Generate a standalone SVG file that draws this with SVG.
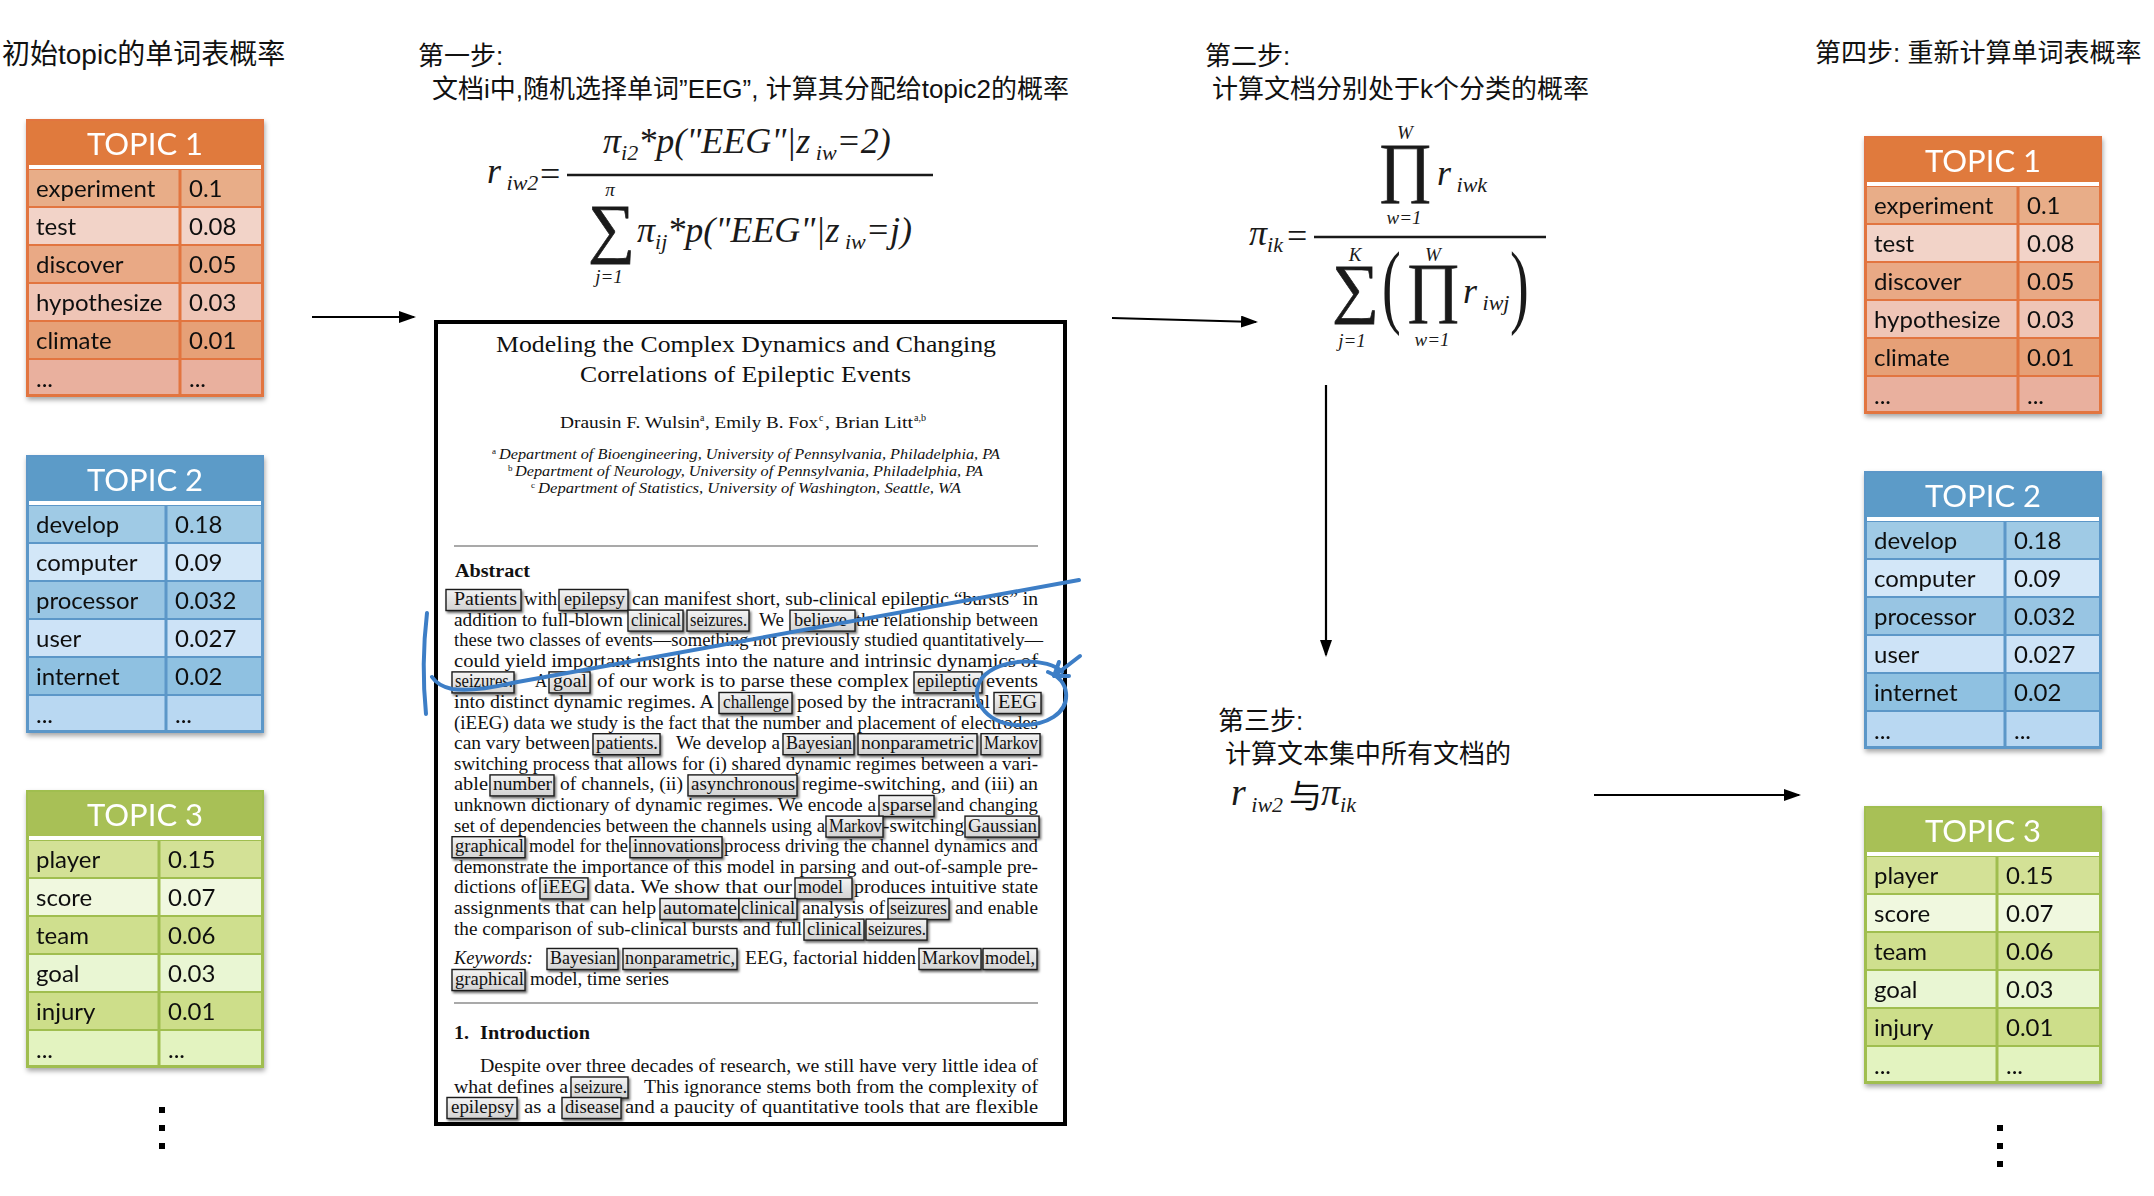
<svg xmlns="http://www.w3.org/2000/svg" width="2154" height="1196" viewBox="0 0 2154 1196">
<style>
.ob{fill:#E2743F}.oh{fill:#E07A3E}.o1{fill:#E8AD88}.o2{fill:#F2D3C8}.o3{fill:#E9A985}.o4{fill:#EFC5B6}.o5{fill:#E6A077}.o6{fill:#E9B09E}.ol{stroke:#E2743F}
.bb{fill:#5B97C8}.bh{fill:#5B9BC8}.b1{fill:#9FCAE5}.b2{fill:#D3E7F8}.b3{fill:#98C5E3}.b4{fill:#CDE3F7}.b5{fill:#8FC1E1}.b6{fill:#B9D8F2}.bl{stroke:#5B97C8}
.gb{fill:#A0BE50}.gh{fill:#A8C056}.g1{fill:#D3E196}.g2{fill:#F0F8DF}.g3{fill:#CFDF8E}.g4{fill:#E9F6D3}.g5{fill:#CDDE8A}.g6{fill:#E3F3C0}.gl{stroke:#A0BE50}
.wb{fill:#fff}
.dv{stroke-width:3}
.th{font-family:Lato,"Open Sans",sans-serif;font-size:31px;fill:#fff;text-anchor:middle}
.tl{font-family:Lato,"Open Sans",sans-serif;font-size:24px;fill:#111}
.cn{font-family:"Liberation Sans","Noto Sans CJK SC",sans-serif;font-size:26px;fill:#111}
.m{font-family:"Liberation Serif",serif;font-style:italic;font-size:36px;fill:#1a1a1a}
.s{font-size:22px}
.lim{font-family:"Liberation Serif",serif;font-style:italic;font-size:19px;fill:#1a1a1a;text-anchor:middle}
.op{font-family:"Liberation Serif",serif;font-size:66px;fill:#1a1a1a;stroke:#1a1a1a;stroke-width:0.7}
.eq{font-family:"Liberation Serif",serif;font-size:36px;fill:#1a1a1a}
.pt{font-family:"Liberation Serif",serif;font-size:18px;fill:#111}
.it{font-style:italic}
.bd{font-weight:bold}
.hl{fill:url(#bgr);stroke:#1c1c1c;stroke-width:1.4;filter:url(#bs)}
.rule{stroke:#555;stroke-width:1.2}
.arr{stroke:#000;stroke-width:2.2;fill:none;marker-end:url(#ah)}
.pen{stroke:#3D7EC6;stroke-width:4;fill:none;stroke-linecap:round;stroke-linejoin:round}
.dot{fill:#000}
</style>
<defs>
<filter id="tsh" x="-10%" y="-10%" width="125%" height="125%"><feDropShadow dx="1" dy="3" stdDeviation="2.5" flood-color="#000" flood-opacity="0.35"/></filter>
<filter id="bs" x="-20%" y="-30%" width="150%" height="180%"><feDropShadow dx="1.5" dy="2" stdDeviation="1" flood-color="#000" flood-opacity="0.55"/></filter>
<linearGradient id="bgr" x1="0" y1="0" x2="0" y2="1"><stop offset="0" stop-color="#f4f4f4"/><stop offset="1" stop-color="#d2d2d2"/></linearGradient>
<marker id="ah" markerWidth="17" markerHeight="12" refX="15" refY="6" orient="auto" markerUnits="userSpaceOnUse"><path d="M0,0 L17,6 L0,12 z" fill="#000"/></marker>
</defs>
<rect width="2154" height="1196" fill="#fff"/>

<!-- titles -->
<g id="title-left"><text class="cn" style="font-size:28px" x="2" y="64">初始topic的单词表概率</text></g>
<g id="title-right"><text class="cn" x="1815" y="62">第四步: 重新计算单词表概率</text></g>

<!-- LEFT TOPIC 1 -->
<g id="topic1-left" transform="translate(26,119)" filter="url(#tsh)">
<rect class="ob" width="238" height="278"/><rect class="oh" x="2" y="2" width="234" height="44"/><rect class="wb" x="3" y="46" width="232" height="4"/>
<rect class="o1" x="3" y="51" width="232" height="36"/><rect class="o2" x="3" y="89" width="232" height="36"/><rect class="o3" x="3" y="127" width="232" height="36"/><rect class="o4" x="3" y="165" width="232" height="36"/><rect class="o5" x="3" y="203" width="232" height="36"/><rect class="o6" x="3" y="241" width="232" height="34"/>
<line class="ol dv" x1="154" y1="50" x2="154" y2="276"/>
<text class="th" x="119" y="36">TOPIC 1</text>
<text class="tl" x="10" y="78">experiment</text><text class="tl" x="163" y="78">0.1</text>
<text class="tl" x="10" y="116">test</text><text class="tl" x="163" y="116">0.08</text>
<text class="tl" x="10" y="154">discover</text><text class="tl" x="163" y="154">0.05</text>
<text class="tl" x="10" y="192">hypothesize</text><text class="tl" x="163" y="192">0.03</text>
<text class="tl" x="10" y="230">climate</text><text class="tl" x="163" y="230">0.01</text>
<text class="tl" x="10" y="268">...</text><text class="tl" x="163" y="268">...</text>
</g>
<!-- LEFT TOPIC 2 -->
<g id="topic2-left" transform="translate(26,455)" filter="url(#tsh)">
<rect class="bb" width="238" height="278"/><rect class="bh" x="2" y="2" width="234" height="44"/><rect class="wb" x="3" y="46" width="232" height="4"/>
<rect class="b1" x="3" y="51" width="232" height="36"/><rect class="b2" x="3" y="89" width="232" height="36"/><rect class="b3" x="3" y="127" width="232" height="36"/><rect class="b4" x="3" y="165" width="232" height="36"/><rect class="b5" x="3" y="203" width="232" height="36"/><rect class="b6" x="3" y="241" width="232" height="34"/>
<line class="bl dv" x1="140" y1="50" x2="140" y2="276"/>
<text class="th" x="119" y="36">TOPIC 2</text>
<text class="tl" x="10" y="78">develop</text><text class="tl" x="149" y="78">0.18</text>
<text class="tl" x="10" y="116">computer</text><text class="tl" x="149" y="116">0.09</text>
<text class="tl" x="10" y="154">processor</text><text class="tl" x="149" y="154">0.032</text>
<text class="tl" x="10" y="192">user</text><text class="tl" x="149" y="192">0.027</text>
<text class="tl" x="10" y="230">internet</text><text class="tl" x="149" y="230">0.02</text>
<text class="tl" x="10" y="268">...</text><text class="tl" x="149" y="268">...</text>
</g>
<!-- LEFT TOPIC 3 -->
<g id="topic3-left" transform="translate(26,790)" filter="url(#tsh)">
<rect class="gb" width="238" height="278"/><rect class="gh" x="2" y="2" width="234" height="44"/><rect class="wb" x="3" y="46" width="232" height="4"/>
<rect class="g1" x="3" y="51" width="232" height="36"/><rect class="g2" x="3" y="89" width="232" height="36"/><rect class="g3" x="3" y="127" width="232" height="36"/><rect class="g4" x="3" y="165" width="232" height="36"/><rect class="g5" x="3" y="203" width="232" height="36"/><rect class="g6" x="3" y="241" width="232" height="34"/>
<line class="gl dv" x1="133" y1="50" x2="133" y2="276"/>
<text class="th" x="119" y="36">TOPIC 3</text>
<text class="tl" x="10" y="78">player</text><text class="tl" x="142" y="78">0.15</text>
<text class="tl" x="10" y="116">score</text><text class="tl" x="142" y="116">0.07</text>
<text class="tl" x="10" y="154">team</text><text class="tl" x="142" y="154">0.06</text>
<text class="tl" x="10" y="192">goal</text><text class="tl" x="142" y="192">0.03</text>
<text class="tl" x="10" y="230">injury</text><text class="tl" x="142" y="230">0.01</text>
<text class="tl" x="10" y="268">...</text><text class="tl" x="142" y="268">...</text>
</g>
<g id="more-left"><rect class="dot" x="159" y="1107" width="6" height="6"/><rect class="dot" x="159" y="1125" width="6" height="6"/><rect class="dot" x="159" y="1143" width="6" height="6"/></g>

<!-- RIGHT TOPIC 1 -->
<g id="topic1-right" transform="translate(1864,136)" filter="url(#tsh)">
<rect class="ob" width="238" height="278"/><rect class="oh" x="2" y="2" width="234" height="44"/><rect class="wb" x="3" y="46" width="232" height="4"/>
<rect class="o1" x="3" y="51" width="232" height="36"/><rect class="o2" x="3" y="89" width="232" height="36"/><rect class="o3" x="3" y="127" width="232" height="36"/><rect class="o4" x="3" y="165" width="232" height="36"/><rect class="o5" x="3" y="203" width="232" height="36"/><rect class="o6" x="3" y="241" width="232" height="34"/>
<line class="ol dv" x1="154" y1="50" x2="154" y2="276"/>
<text class="th" x="119" y="36">TOPIC 1</text>
<text class="tl" x="10" y="78">experiment</text><text class="tl" x="163" y="78">0.1</text>
<text class="tl" x="10" y="116">test</text><text class="tl" x="163" y="116">0.08</text>
<text class="tl" x="10" y="154">discover</text><text class="tl" x="163" y="154">0.05</text>
<text class="tl" x="10" y="192">hypothesize</text><text class="tl" x="163" y="192">0.03</text>
<text class="tl" x="10" y="230">climate</text><text class="tl" x="163" y="230">0.01</text>
<text class="tl" x="10" y="268">...</text><text class="tl" x="163" y="268">...</text>
</g>
<!-- RIGHT TOPIC 2 -->
<g id="topic2-right" transform="translate(1864,471)" filter="url(#tsh)">
<rect class="bb" width="238" height="278"/><rect class="bh" x="2" y="2" width="234" height="44"/><rect class="wb" x="3" y="46" width="232" height="4"/>
<rect class="b1" x="3" y="51" width="232" height="36"/><rect class="b2" x="3" y="89" width="232" height="36"/><rect class="b3" x="3" y="127" width="232" height="36"/><rect class="b4" x="3" y="165" width="232" height="36"/><rect class="b5" x="3" y="203" width="232" height="36"/><rect class="b6" x="3" y="241" width="232" height="34"/>
<line class="bl dv" x1="141" y1="50" x2="141" y2="276"/>
<text class="th" x="119" y="36">TOPIC 2</text>
<text class="tl" x="10" y="78">develop</text><text class="tl" x="150" y="78">0.18</text>
<text class="tl" x="10" y="116">computer</text><text class="tl" x="150" y="116">0.09</text>
<text class="tl" x="10" y="154">processor</text><text class="tl" x="150" y="154">0.032</text>
<text class="tl" x="10" y="192">user</text><text class="tl" x="150" y="192">0.027</text>
<text class="tl" x="10" y="230">internet</text><text class="tl" x="150" y="230">0.02</text>
<text class="tl" x="10" y="268">...</text><text class="tl" x="150" y="268">...</text>
</g>
<!-- RIGHT TOPIC 3 -->
<g id="topic3-right" transform="translate(1864,806)" filter="url(#tsh)">
<rect class="gb" width="238" height="278"/><rect class="gh" x="2" y="2" width="234" height="44"/><rect class="wb" x="3" y="46" width="232" height="4"/>
<rect class="g1" x="3" y="51" width="232" height="36"/><rect class="g2" x="3" y="89" width="232" height="36"/><rect class="g3" x="3" y="127" width="232" height="36"/><rect class="g4" x="3" y="165" width="232" height="36"/><rect class="g5" x="3" y="203" width="232" height="36"/><rect class="g6" x="3" y="241" width="232" height="34"/>
<line class="gl dv" x1="133" y1="50" x2="133" y2="276"/>
<text class="th" x="119" y="36">TOPIC 3</text>
<text class="tl" x="10" y="78">player</text><text class="tl" x="142" y="78">0.15</text>
<text class="tl" x="10" y="116">score</text><text class="tl" x="142" y="116">0.07</text>
<text class="tl" x="10" y="154">team</text><text class="tl" x="142" y="154">0.06</text>
<text class="tl" x="10" y="192">goal</text><text class="tl" x="142" y="192">0.03</text>
<text class="tl" x="10" y="230">injury</text><text class="tl" x="142" y="230">0.01</text>
<text class="tl" x="10" y="268">...</text><text class="tl" x="142" y="268">...</text>
</g>
<g id="more-right"><rect class="dot" x="1997" y="1125" width="6" height="6"/><rect class="dot" x="1997" y="1143" width="6" height="6"/><rect class="dot" x="1997" y="1161" width="6" height="6"/></g>

<!-- STEP 1 -->
<g id="step1">
<text class="cn" x="418" y="65">第一步:</text>
<text class="cn" x="432" y="98">文档i中,随机选择单词”EEG”, 计算其分配给topic2的概率</text>
<text class="m" x="487" y="183">r<tspan class="s" dy="7"> iw2</tspan></text>
<text class="eq" x="540" y="186">=</text>
<line x1="567" y1="175" x2="933" y2="175" stroke="#1a1a1a" stroke-width="2.5"/>
<text class="m" x="603" y="153">π<tspan class="s" dy="7">i2</tspan><tspan dy="-7">*p("EEG"|z</tspan><tspan class="s" dy="7"> iw</tspan><tspan dy="-7">=2)</tspan></text>
<text class="lim" x="610" y="196">π</text>
<text class="op" x="588" y="250">∑</text>
<text class="lim" x="609" y="283">j=1</text>
<text class="m" x="637" y="242">π<tspan class="s" dy="7">ij</tspan><tspan dy="-7">*p("EEG"|z</tspan><tspan class="s" dy="7"> iw</tspan><tspan dy="-7">=j)</tspan></text>
</g>

<!-- STEP 2 -->
<g id="step2">
<text class="cn" x="1205" y="65">第二步:</text>
<text class="cn" x="1212" y="98">计算文档分别处于k个分类的概率</text>
<text class="m" x="1249" y="245">π<tspan class="s" dy="7">ik</tspan></text>
<text class="eq" x="1287" y="248">=</text>
<line x1="1314" y1="237" x2="1546" y2="237" stroke="#1a1a1a" stroke-width="2.5"/>
<text class="lim" x="1405" y="139">W</text>
<text class="op" x="1378" y="189">∏</text>
<text class="lim" x="1404" y="224">w=1</text>
<text class="m" x="1437" y="185">r<tspan class="s" dy="7"> iwk</tspan></text>
<text class="lim" x="1355" y="261">K</text>
<text class="op" x="1332" y="310">∑</text>
<text class="lim" x="1352" y="347">j=1</text>
<text class="eq" transform="translate(1382,316) scale(0.6,1)" style="font-size:94px">(</text>
<text class="lim" x="1433" y="261">W</text>
<text class="op" x="1406" y="309">∏</text>
<text class="lim" x="1432" y="346">w=1</text>
<text class="m" x="1463" y="303">r<tspan class="s" dy="7"> iwj</tspan></text>
<text class="eq" transform="translate(1510,316) scale(0.6,1)" style="font-size:94px">)</text>
</g>

<!-- STEP 3 -->
<g id="step3">
<text class="cn" x="1218" y="730">第三步:</text>
<text class="cn" x="1225" y="763">计算文本集中所有文档的</text>
<text class="m" x="1231" y="805" style="font-size:38px">r<tspan class="s" dy="7"> iw2</tspan></text>
<text class="cn" x="1289" y="808" style="font-size:33px">与</text>
<text class="m" x="1321" y="805" style="font-size:38px">π<tspan class="s" dy="7">ik</tspan></text>
</g>

<!-- connectors -->
<g id="connectors">
<line class="arr" x1="312" y1="317" x2="414" y2="317"/>
<line class="arr" x1="1112" y1="318" x2="1256" y2="322"/>
<line class="arr" x1="1326" y1="385" x2="1326" y2="655"/>
<line class="arr" x1="1594" y1="795" x2="1799" y2="795"/>
</g>

<!-- PAPER -->
<g id="paper">
<rect x="436" y="322" width="629" height="802" fill="#fff" stroke="#000" stroke-width="4"/>
<text class="pt" style="font-size:23px" x="496" y="352" textLength="500" lengthAdjust="spacingAndGlyphs">Modeling the Complex Dynamics and Changing</text>
<text class="pt" style="font-size:23px" x="580" y="382" textLength="331" lengthAdjust="spacingAndGlyphs">Correlations of Epileptic Events</text>
<g>
<text class="pt" style="font-size:16px" x="560" y="428" textLength="140" lengthAdjust="spacingAndGlyphs">Drausin F. Wulsin</text>
<text class="pt" style="font-size:10px" x="700" y="421">a</text>
<text class="pt" style="font-size:16px" x="705" y="428" textLength="113" lengthAdjust="spacingAndGlyphs">, Emily B. Fox</text>
<text class="pt" style="font-size:10px" x="819" y="421">c</text>
<text class="pt" style="font-size:16px" x="825" y="428" textLength="88" lengthAdjust="spacingAndGlyphs">, Brian Litt</text>
<text class="pt" style="font-size:10px" x="914" y="421">a,b</text>
</g>
<text class="pt" style="font-size:9px" x="492" y="454">a</text>
<text class="pt it" style="font-size:14px" x="499" y="459" textLength="501" lengthAdjust="spacingAndGlyphs">Department of Bioengineering, University of Pennsylvania, Philadelphia, PA</text>
<text class="pt" style="font-size:9px" x="508" y="471">b</text>
<text class="pt it" style="font-size:14px" x="515" y="476" textLength="468" lengthAdjust="spacingAndGlyphs">Department of Neurology, University of Pennsylvania, Philadelphia, PA</text>
<text class="pt" style="font-size:9px" x="531" y="488">c</text>
<text class="pt it" style="font-size:14px" x="538" y="493" textLength="423" lengthAdjust="spacingAndGlyphs">Department of Statistics, University of Washington, Seattle, WA</text>
<line class="rule" x1="454" y1="546" x2="1038" y2="546"/>
<text class="pt bd" x="455" y="577" textLength="75" lengthAdjust="spacingAndGlyphs">Abstract</text>

<!-- highlight boxes -->
<rect class="hl" x="446" y="589.5" width="75" height="21"/>
<rect class="hl" x="559" y="589.5" width="69" height="21"/>
<rect class="hl" x="628" y="610.1" width="55" height="21"/>
<rect class="hl" x="687" y="610.1" width="62" height="21"/>
<rect class="hl" x="790" y="610.1" width="65" height="21"/>
<rect class="hl" x="452" y="671.9" width="62" height="21"/>
<rect class="hl" x="549" y="671.9" width="41" height="21"/>
<rect class="hl" x="914" y="671.9" width="68" height="21"/>
<rect class="hl" x="719" y="692.5" width="73" height="21"/>
<rect class="hl" x="994" y="692.5" width="47" height="21"/>
<rect class="hl" x="593" y="733.7" width="67" height="21"/>
<rect class="hl" x="783" y="733.7" width="71" height="21"/>
<rect class="hl" x="858" y="733.7" width="119" height="21"/>
<rect class="hl" x="981" y="733.7" width="59" height="21"/>
<rect class="hl" x="490" y="774.9" width="64" height="21"/>
<rect class="hl" x="688" y="774.9" width="109" height="21"/>
<rect class="hl" x="879" y="795.5" width="55" height="21"/>
<rect class="hl" x="826" y="816.1" width="57" height="21"/>
<rect class="hl" x="965" y="816.1" width="74" height="21"/>
<rect class="hl" x="452" y="836.7" width="73" height="21"/>
<rect class="hl" x="630" y="836.7" width="92" height="21"/>
<rect class="hl" x="540" y="877.9" width="48" height="21"/>
<rect class="hl" x="795" y="877.9" width="57" height="21"/>
<rect class="hl" x="660" y="898.5" width="79" height="21"/>
<rect class="hl" x="739" y="898.5" width="58" height="21"/>
<rect class="hl" x="888" y="898.5" width="61" height="21"/>
<rect class="hl" x="804" y="919.1" width="60" height="21"/>
<rect class="hl" x="866" y="919.1" width="61" height="21"/>
<rect class="hl" x="547" y="948.5" width="71" height="21"/>
<rect class="hl" x="623" y="948.5" width="114" height="21"/>
<rect class="hl" x="919" y="948.5" width="62" height="21"/>
<rect class="hl" x="983" y="948.5" width="54" height="21"/>
<rect class="hl" x="452" y="969.5" width="73" height="21"/>
<rect class="hl" x="571" y="1077" width="57" height="21"/>
<rect class="hl" x="447" y="1097.5" width="70" height="21"/>
<rect class="hl" x="562" y="1097.5" width="59" height="21"/>

<!-- body text -->
<g class="pt">
<text x="454" y="605" textLength="63" lengthAdjust="spacingAndGlyphs">Patients</text>
<text x="524" y="605" textLength="33" lengthAdjust="spacingAndGlyphs">with</text>
<text x="564" y="605" textLength="61" lengthAdjust="spacingAndGlyphs">epilepsy</text>
<text x="632" y="605" textLength="406" lengthAdjust="spacingAndGlyphs">can manifest short, sub-clinical epileptic “bursts” in</text>

<text x="454" y="625.6" textLength="169" lengthAdjust="spacingAndGlyphs">addition to full-blown</text>
<text x="631" y="625.6" textLength="50" lengthAdjust="spacingAndGlyphs">clinical</text>
<text x="690" y="625.6" textLength="57" lengthAdjust="spacingAndGlyphs">seizures.</text>
<text x="759" y="625.6" textLength="25" lengthAdjust="spacingAndGlyphs">We</text>
<text x="794" y="625.6" textLength="53" lengthAdjust="spacingAndGlyphs">believe</text>
<text x="856" y="625.6" textLength="182" lengthAdjust="spacingAndGlyphs">the relationship between</text>

<text x="454" y="646.2" textLength="589" lengthAdjust="spacingAndGlyphs">these two classes of events—something not previously studied quantitatively—</text>
<text x="454" y="666.8" textLength="584" lengthAdjust="spacingAndGlyphs">could yield important insights into the nature and intrinsic dynamics of</text>

<text x="455" y="687.4" textLength="58" lengthAdjust="spacingAndGlyphs">seizures.</text>
<text x="535" y="687.4" textLength="12" lengthAdjust="spacingAndGlyphs">A</text>
<text x="553" y="687.4" textLength="34" lengthAdjust="spacingAndGlyphs">goal</text>
<text x="597" y="687.4" textLength="312" lengthAdjust="spacingAndGlyphs">of our work is to parse these complex</text>
<text x="917" y="687.4" textLength="63" lengthAdjust="spacingAndGlyphs">epileptic</text>
<text x="986" y="687.4" textLength="52" lengthAdjust="spacingAndGlyphs">events</text>

<text x="454" y="708" textLength="260" lengthAdjust="spacingAndGlyphs">into distinct dynamic regimes.  A</text>
<text x="723" y="708" textLength="66" lengthAdjust="spacingAndGlyphs">challenge</text>
<text x="797" y="708" textLength="193" lengthAdjust="spacingAndGlyphs">posed by the intracranial</text>
<text x="998" y="708" textLength="39" lengthAdjust="spacingAndGlyphs">EEG</text>

<text x="454" y="728.6" textLength="584" lengthAdjust="spacingAndGlyphs">(iEEG) data we study is the fact that the number and placement of electrodes</text>

<text x="454" y="749.2" textLength="136" lengthAdjust="spacingAndGlyphs">can vary between</text>
<text x="596" y="749.2" textLength="62" lengthAdjust="spacingAndGlyphs">patients.</text>
<text x="676" y="749.2" textLength="104" lengthAdjust="spacingAndGlyphs">We develop a</text>
<text x="786" y="749.2" textLength="66" lengthAdjust="spacingAndGlyphs">Bayesian</text>
<text x="861" y="749.2" textLength="113" lengthAdjust="spacingAndGlyphs">nonparametric</text>
<text x="984" y="749.2" textLength="54" lengthAdjust="spacingAndGlyphs">Markov</text>

<text x="454" y="769.8" textLength="584" lengthAdjust="spacingAndGlyphs">switching process that allows for (i) shared dynamic regimes between a vari-</text>

<text x="454" y="790.4" textLength="34" lengthAdjust="spacingAndGlyphs">able</text>
<text x="493" y="790.4" textLength="59" lengthAdjust="spacingAndGlyphs">number</text>
<text x="560" y="790.4" textLength="123" lengthAdjust="spacingAndGlyphs">of channels, (ii)</text>
<text x="691" y="790.4" textLength="104" lengthAdjust="spacingAndGlyphs">asynchronous</text>
<text x="802" y="790.4" textLength="236" lengthAdjust="spacingAndGlyphs">regime-switching, and (iii) an</text>

<text x="454" y="811" textLength="422" lengthAdjust="spacingAndGlyphs">unknown dictionary of dynamic regimes. We encode a</text>
<text x="882" y="811" textLength="50" lengthAdjust="spacingAndGlyphs">sparse</text>
<text x="937" y="811" textLength="101" lengthAdjust="spacingAndGlyphs">and changing</text>

<text x="454" y="831.6" textLength="371" lengthAdjust="spacingAndGlyphs">set of dependencies between the channels using a</text>
<text x="829" y="831.6" textLength="53" lengthAdjust="spacingAndGlyphs">Markov</text>
<text x="883" y="831.6" textLength="81" lengthAdjust="spacingAndGlyphs">-switching</text>
<text x="968" y="831.6" textLength="69" lengthAdjust="spacingAndGlyphs">Gaussian</text>

<text x="455" y="852.2" textLength="69" lengthAdjust="spacingAndGlyphs">graphical</text>
<text x="529" y="852.2" textLength="99" lengthAdjust="spacingAndGlyphs">model for the</text>
<text x="633" y="852.2" textLength="87" lengthAdjust="spacingAndGlyphs">innovations</text>
<text x="724" y="852.2" textLength="314" lengthAdjust="spacingAndGlyphs">process driving the channel dynamics and</text>

<text x="454" y="872.8" textLength="584" lengthAdjust="spacingAndGlyphs">demonstrate the importance of this model in parsing and out-of-sample pre-</text>

<text x="454" y="893.4" textLength="83" lengthAdjust="spacingAndGlyphs">dictions of</text>
<text x="543" y="893.4" textLength="43" lengthAdjust="spacingAndGlyphs">iEEG</text>
<text x="594" y="893.4" textLength="198" lengthAdjust="spacingAndGlyphs">data.  We show that our</text>
<text x="798" y="893.4" textLength="45" lengthAdjust="spacingAndGlyphs">model</text>
<text x="854" y="893.4" textLength="184" lengthAdjust="spacingAndGlyphs">produces intuitive state</text>

<text x="454" y="914" textLength="202" lengthAdjust="spacingAndGlyphs">assignments that can help</text>
<text x="663" y="914" textLength="74" lengthAdjust="spacingAndGlyphs">automate</text>
<text x="741" y="914" textLength="54" lengthAdjust="spacingAndGlyphs">clinical</text>
<text x="802" y="914" textLength="83" lengthAdjust="spacingAndGlyphs">analysis of</text>
<text x="890" y="914" textLength="57" lengthAdjust="spacingAndGlyphs">seizures</text>
<text x="955" y="914" textLength="83" lengthAdjust="spacingAndGlyphs">and enable</text>

<text x="454" y="934.6" textLength="348" lengthAdjust="spacingAndGlyphs">the comparison of sub-clinical bursts and full</text>
<text x="807" y="934.6" textLength="55" lengthAdjust="spacingAndGlyphs">clinical</text>
<text x="868" y="934.6" textLength="58" lengthAdjust="spacingAndGlyphs">seizures.</text>

<text class="it" x="454" y="964" textLength="79" lengthAdjust="spacingAndGlyphs">Keywords:</text>
<text x="550" y="964" textLength="66" lengthAdjust="spacingAndGlyphs">Bayesian</text>
<text x="625" y="964" textLength="110" lengthAdjust="spacingAndGlyphs">nonparametric,</text>
<text x="745" y="964" textLength="171" lengthAdjust="spacingAndGlyphs">EEG, factorial hidden</text>
<text x="922" y="964" textLength="57" lengthAdjust="spacingAndGlyphs">Markov</text>
<text x="985" y="964" textLength="50" lengthAdjust="spacingAndGlyphs">model,</text>
<text x="455" y="985" textLength="69" lengthAdjust="spacingAndGlyphs">graphical</text>
<text x="530" y="985" textLength="139" lengthAdjust="spacingAndGlyphs">model, time series</text>

<text class="bd" x="454" y="1039" textLength="15" lengthAdjust="spacingAndGlyphs">1.</text>
<text class="bd" x="480" y="1039" textLength="110" lengthAdjust="spacingAndGlyphs">Introduction</text>

<text x="480" y="1072" textLength="558" lengthAdjust="spacingAndGlyphs">Despite over three decades of research, we still have very little idea of</text>
<text x="454" y="1092.5" textLength="114" lengthAdjust="spacingAndGlyphs">what defines a</text>
<text x="574" y="1092.5" textLength="53" lengthAdjust="spacingAndGlyphs">seizure.</text>
<text x="644" y="1092.5" textLength="394" lengthAdjust="spacingAndGlyphs">This ignorance stems both from the complexity of</text>
<text x="451" y="1113" textLength="63" lengthAdjust="spacingAndGlyphs">epilepsy</text>
<text x="524" y="1113" textLength="32" lengthAdjust="spacingAndGlyphs">as a</text>
<text x="565" y="1113" textLength="54" lengthAdjust="spacingAndGlyphs">disease</text>
<text x="625" y="1113" textLength="413" lengthAdjust="spacingAndGlyphs">and a paucity of quantitative tools that are flexible</text>
</g>
<line class="rule" x1="454" y1="1003" x2="1038" y2="1003"/>
</g>

<!-- pen annotation -->
<g id="annotation">
<path class="pen" d="M1079,580 L512,683 Q474,692 452,689 Q438,686 432,677"/>
<path class="pen" d="M427,613 Q421,664 426,714"/>
<path class="pen" d="M1062,672 C1050,658 1000,656 982,678 C968,698 985,722 1015,725 C1048,727 1068,712 1066,693 C1065,682 1058,676 1048,672"/>
<path class="pen" d="M1080,656 L1054,676 M1054,676 L1059,662 M1054,676 L1069,676"/>
</g>
</svg>
